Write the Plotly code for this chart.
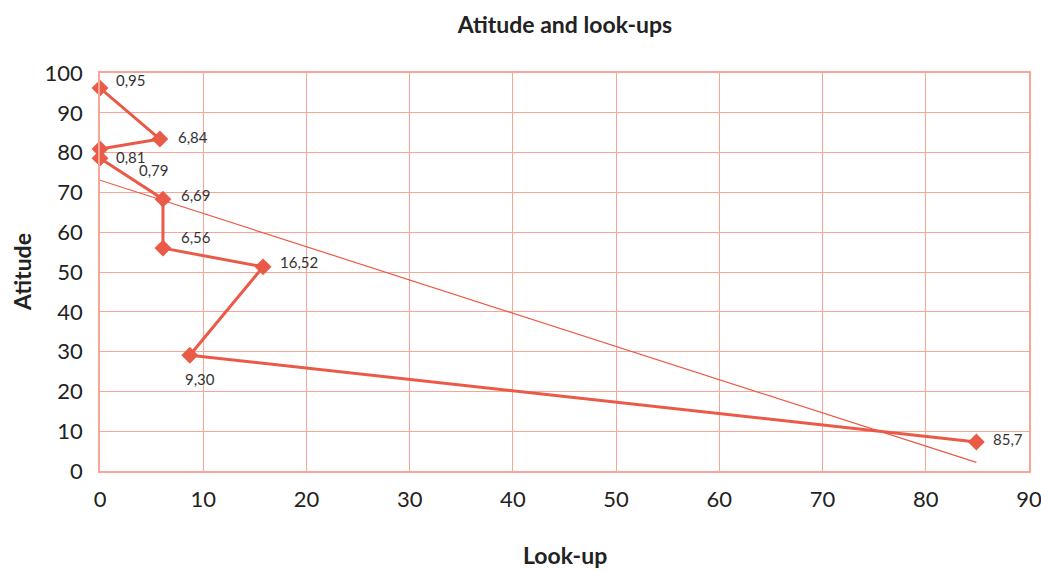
import numpy as np
import plotly.graph_objects as go

# Data
look_up = [0.0, 5.8, 0.0, 0.0, 6.1, 6.1, 15.8, 8.7, 84.9]
attitude = [96.2, 83.4, 80.9, 78.6, 68.3, 56.0, 51.3, 29.1, 7.3]
point_labels = ["0,95", "6,84", "0,81", "0,79", "6,69", "6,56", "16,52", "9,30", "85,7"]
x_ticks = [0, 10, 20, 30, 40, 50, 60, 70, 80, 90]
y_ticks = [0, 10, 20, 30, 40, 50, 60, 70, 80, 90, 100]

# label offsets (px) -- styling only
label_dx = [14, 16, 14, 37, 16, 16, 15, -7, 15]
label_dy = [8, 2, -8, -12, 4, 11, 5, -24, 3]

LINE = "#EA5A48"
GRID = "rgb(247,165,151)"
FONT = "Lato"

# Linear trendline (least squares), drawn from x=0 to max x
slope, intercept = np.polyfit(look_up, attitude, 1)
trend_x = [0, max(look_up)]
trend_y = [intercept + slope * v for v in trend_x]

fig = go.Figure()
fig.add_trace(go.Scatter(
    x=trend_x, y=trend_y, mode="lines",
    line=dict(color=LINE, width=1.2), hoverinfo="skip", showlegend=False,
    cliponaxis=False,
))
fig.add_trace(go.Scatter(
    x=look_up, y=attitude, mode="lines+markers",
    line=dict(color=LINE, width=3),
    marker=dict(symbol="diamond", size=13, color=LINE),
    showlegend=False, cliponaxis=False,
))

for x, y, t, dx, dy in zip(look_up, attitude, point_labels, label_dx, label_dy):
    fig.add_annotation(x=x, y=y, text=t, showarrow=False, xanchor="left", yanchor="middle",
                       xshift=dx, yshift=dy, font=dict(family=FONT, size=15, color="#333333"))

fig.add_annotation(text="<b>Look-up</b>", xref="paper", yref="paper", x=0.5, y=-0.211,
                   xanchor="center", yanchor="middle", showarrow=False,
                   font=dict(family=FONT, size=23, color="#222222"))
fig.add_annotation(text="<b>Atitude</b>", xref="paper", yref="paper", x=-0.084, y=0.5,
                   xanchor="center", yanchor="middle", showarrow=False, textangle=-90,
                   font=dict(family=FONT, size=23, color="#222222"))

fig.update_layout(
    width=1041, height=571, autosize=False,
    margin=dict(l=100, r=12, t=73, b=100),
    paper_bgcolor="white", plot_bgcolor="white",
    title=dict(text="<b>Atitude and look-ups</b>", x=0.5427, xanchor="center", y=0.956, yanchor="middle",
               font=dict(family=FONT, size=23, color="#222222")),
    font=dict(family=FONT),
)
fig.update_xaxes(range=[0, 90], tickvals=x_ticks, showgrid=True, gridcolor=GRID, gridwidth=1.2,
                 showline=True, linecolor=GRID, linewidth=1.5, mirror=True, zeroline=False,
                 ticks="", tickfont=dict(family=FONT, size=22, color="#222222"),
                 ticklabelstandoff=8, ticklabeloverflow="allow", automargin=False)
fig.update_yaxes(range=[0, 100], tickvals=y_ticks, showgrid=True, gridcolor=GRID, gridwidth=1.2,
                 showline=True, linecolor=GRID, linewidth=1.5, mirror=True, zeroline=False,
                 ticks="", tickfont=dict(family=FONT, size=22, color="#222222"),
                 ticklabelstandoff=11, ticklabeloverflow="allow", automargin=False)

fig.write_html(
    "out.html",
    config={"displayModeBar": False, "responsive": False},
    post_script=("document.body.style.margin='0';document.body.style.overflow='hidden';"
                 "Plotly.relayout('{plot_id}', {width: 1041, height: 571});"),
)
